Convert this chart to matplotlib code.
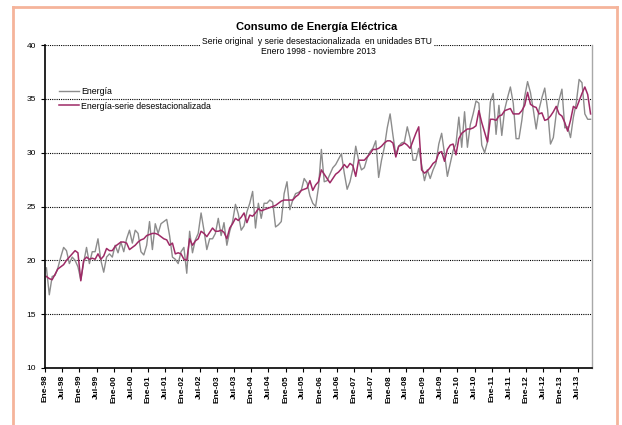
import numpy as np
import matplotlib
matplotlib.use("Agg")
import matplotlib.pyplot as plt
from matplotlib.lines import Line2D

plt.rcParams['font.family'] = ['Liberation Sans', 'DejaVu Sans']

# monthly values, Jan 1998 - Nov 2013 (BTU)
energia = [
    19.3, 16.8, 18.5, 18.6, 19.3, 20.3, 21.2, 20.9, 19.7, 20.3, 20.0, 19.4,  # 1998
    18.2, 19.8, 21.2, 19.7, 20.8, 20.8, 22.0, 20.0, 18.9, 20.3, 20.6, 20.3,  # 1999
    21.4, 20.7, 21.7, 20.8, 22.0, 22.8, 21.6, 22.8, 22.5, 20.8, 20.5, 21.4,  # 2000
    23.6, 21.0, 23.4, 22.5, 23.4, 23.6, 23.8, 22.3, 20.3, 20.1, 19.7, 20.8,  # 2001
    21.2, 18.8, 22.7, 20.7, 21.9, 22.5, 24.4, 22.8, 21.0, 22.0, 22.0, 22.5,  # 2002
    23.9, 22.3, 23.5, 21.4, 22.7, 23.6, 25.2, 24.3, 22.8, 23.2, 24.5, 25.3,  # 2003
    26.4, 23.0, 25.3, 23.9, 25.3, 25.3, 25.6, 25.4, 23.1, 23.3, 23.6, 26.2,  # 2004
    27.3, 24.7, 25.6, 26.2, 26.3, 26.5, 27.6, 27.2, 26.0, 25.3, 25.0, 26.8,  # 2005
    30.3, 27.3, 27.4, 28.0, 28.6, 28.9, 29.4, 29.9, 28.1, 26.6, 27.3, 28.5,  # 2006
    30.6, 29.3, 28.4, 28.6, 29.5, 30.1, 30.4, 31.1, 27.7, 29.3, 30.5, 32.3,  # 2007
    33.6, 31.6, 29.8, 30.6, 30.9, 31.0, 32.4, 31.3, 29.3, 29.3, 30.4, 28.9,  # 2008
    27.4, 28.4, 27.6, 28.4, 29.0, 30.8, 31.8, 29.9, 27.8, 29.0, 30.2, 30.8,  # 2009
    33.3, 30.5, 33.8, 30.5, 32.6, 33.6, 34.8, 34.6, 30.7, 30.0, 31.0, 34.7,  # 2010
    35.5, 31.7, 34.4, 31.6, 34.0, 35.1, 36.1, 34.6, 31.3, 31.3, 33.0, 35.2,  # 2011
    36.6, 35.6, 34.0, 32.2, 34.0, 35.1, 36.0, 34.0, 30.8, 31.4, 33.6, 34.9,  # 2012
    35.9, 32.3, 32.4, 31.4, 33.3, 34.6, 36.8, 36.5, 33.6, 33.1, 33.1,        # 2013
]

energia_desest = [
    18.5, 18.3, 18.2, 18.7, 19.2, 19.4, 19.6, 20.0, 20.3, 20.6, 20.9, 20.7,  # 1998
    18.1, 20.0, 20.3, 20.1, 20.2, 20.1, 20.6, 20.1, 20.4, 21.1, 20.9, 20.9,  # 1999
    21.3, 21.5, 21.7, 21.7, 21.6, 21.0, 21.2, 21.4, 21.7, 21.9, 22.0, 22.3,  # 2000
    22.4, 22.5, 22.5, 22.4, 22.2, 22.0, 21.9, 21.4, 21.6, 20.6, 20.7, 20.6,  # 2001
    20.1, 20.0, 22.0, 21.4, 21.8, 22.0, 22.7, 22.5, 22.2, 22.6, 23.0, 22.7,  # 2002
    22.7, 22.8, 22.6, 22.0, 23.0, 23.4, 23.9, 23.7, 24.0, 24.4, 23.5, 24.2,  # 2003
    24.1, 24.4, 24.8, 24.6, 24.7, 24.8, 24.9, 25.0, 25.1, 25.3, 25.5, 25.6,  # 2004
    25.6, 25.6, 25.6, 25.9, 26.1, 26.5, 26.6, 26.7, 27.4, 26.5, 27.0, 27.3,  # 2005
    28.4, 28.0, 27.6, 27.2, 27.6, 28.0, 28.2, 28.5, 28.9, 28.6, 29.0, 28.8,  # 2006
    27.8, 29.3, 29.3, 29.3, 29.6, 29.9, 30.3, 30.3, 30.4, 30.6, 30.9, 31.1,  # 2007
    31.1, 30.9, 29.6, 30.6, 30.7, 30.9, 30.7, 30.4, 31.1, 31.8, 32.4, 28.4,  # 2008
    28.1, 28.3, 28.6, 29.0, 29.2, 30.0, 30.1, 29.2, 30.3, 30.7, 30.8, 29.8,  # 2009
    31.3, 31.8, 32.0, 32.2, 32.2, 32.3, 32.5, 33.9, 32.8, 31.9, 31.0, 33.1,  # 2010
    33.1, 33.0, 33.4, 33.5, 33.9, 34.0, 34.1, 33.6, 33.6, 33.6, 33.9, 34.4,  # 2011
    35.6, 34.5, 34.3, 34.2, 33.6, 33.7, 33.0, 33.1, 33.4, 33.8, 34.3, 33.6,  # 2012
    33.4, 32.8, 32.0, 33.0, 34.3, 34.1, 34.8, 35.5, 36.1, 35.4, 33.6,        # 2013
]

years = list(range(98, 100)) + list(range(0, 14))
tick_labels = []
for y in years:
    yy = f"{y:02d}"
    tick_labels += [f"Ene-{yy}", f"Jul-{yy}"]

meses = np.arange(len(energia))

fig = plt.figure(figsize=(6.22, 4.25), dpi=100)
ax = fig.add_axes([45/622, 1 - 368/425, (592 - 45)/622, (368 - 45)/425])

ax.plot(meses, energia, color='#8c8c8c', lw=1.0, label='Energía')
ax.plot(meses, energia_desest, color='#9e2a66', lw=1.1,
        label='Energía-serie desestacionalizada')

ax.set_xlim(-0.5, len(energia) - 0.5)
ax.set_ylim(10, 40)
ax.set_yticks(np.arange(10, 41, 5))
ax.set_xticks(np.arange(0, len(tick_labels) * 6, 6) - 0.5)
ax.set_xticklabels(tick_labels, rotation=90, fontsize=6, fontweight='bold')
ax.tick_params(axis='y', labelsize=6, length=3, width=0.8)
ax.tick_params(axis='x', length=3, width=0.8, pad=2)

for v in range(15, 41, 5):
    ax.axhline(v, color='black', lw=0.8, ls=(0, (1, 1)), zorder=0)

ax.spines['top'].set_visible(False)
ax.spines['left'].set_linewidth(1.2)
ax.spines['bottom'].set_linewidth(1.2)
ax.spines['right'].set_color('#a8a8a8')
ax.spines['right'].set_linewidth(1.0)

ax.legend(loc='upper left', bbox_to_anchor=(0.02, 0.88), frameon=False,
          fontsize=6.3, handlelength=2.2, handletextpad=0.3, labelspacing=0.6,
          borderaxespad=0)

fig.text(317/622, 1 - 27/425, 'Consumo de Energía Eléctrica', ha='center',
         va='center', fontsize=8, fontweight='bold')
fig.text(317/622, 1 - 42/425, 'Serie original  y serie desestacionalizada  en unidades BTU',
         ha='center', va='center', fontsize=6.2,
         bbox=dict(facecolor='white', edgecolor='none', pad=1.5))
fig.text(318/622, 1 - 52/425, 'Enero 1998 - noviembre 2013', ha='center',
         va='center', fontsize=6.2)

# salmon frame around the chart (bottom edge is cut off)
borde = '#f5b49b'
fig.add_artist(Line2D([13/622, 13/622], [0, 1 - 7/425], color=borde, lw=2, transform=fig.transFigure))
fig.add_artist(Line2D([13/622, 617/622], [1 - 7/425, 1 - 7/425], color=borde, lw=2, transform=fig.transFigure))
fig.add_artist(Line2D([617/622, 617/622], [0, 1 - 7/425], color=borde, lw=2, transform=fig.transFigure))

fig.savefig('out.png', dpi=100)
